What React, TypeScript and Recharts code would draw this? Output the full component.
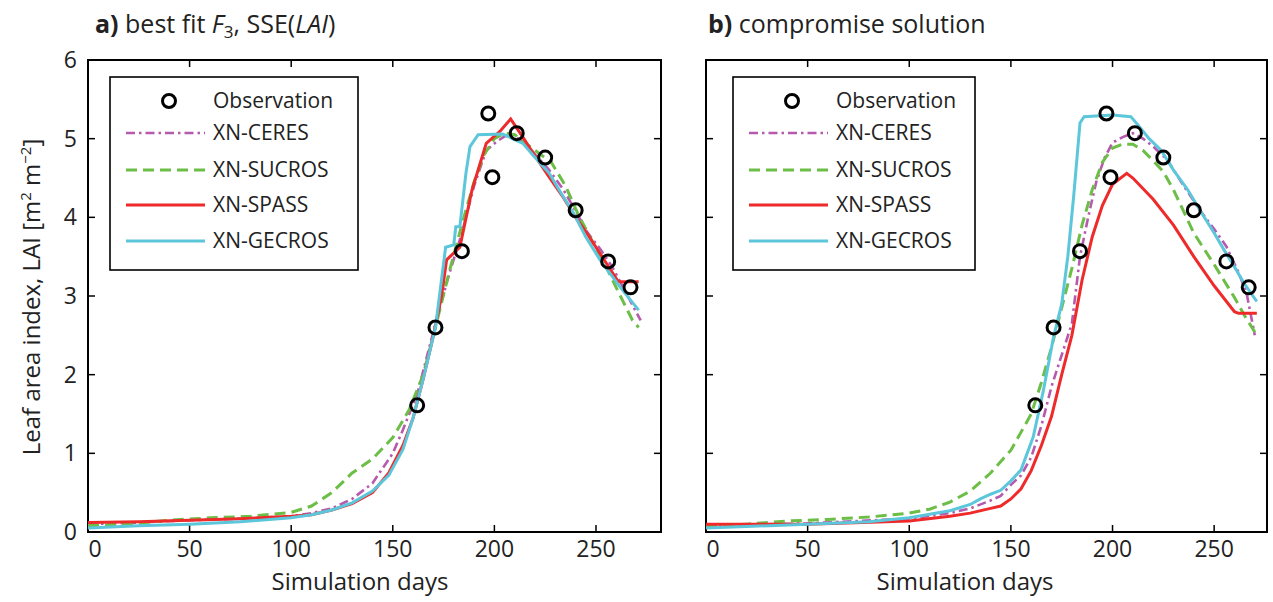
import React from "react";
import { ComposedChart, Line, Scatter, XAxis, YAxis, ReferenceLine, ReferenceArea } from "recharts";

const FONT = "'Open Sans', sans-serif";

const X_TICKS = [0, 50, 100, 150, 200, 250];
const Y_TICKS = [0, 1, 2, 3, 4, 5, 6];

// observations (same in both panels)
const OBS_DAY = [162, 171, 184, 197, 199, 211, 225, 240, 256, 267];
const OBS_LAI = [1.61, 2.6, 3.57, 5.32, 4.51, 5.07, 4.76, 4.09, 3.44, 3.11];

// panel a) best fit
const A_CERES_DAY = [0, 25, 50, 75, 100, 110, 120, 130, 140, 150, 155, 162, 168, 172, 178, 184, 190, 196, 201, 205, 210, 215, 220, 227, 234, 240, 246, 252, 258, 265, 272];
const A_CERES_LAI = [0.1, 0.12, 0.15, 0.17, 0.2, 0.24, 0.3, 0.42, 0.62, 1.0, 1.3, 1.75, 2.35, 2.75, 3.3, 3.8, 4.4, 4.85, 4.96, 5.03, 5.03, 4.95, 4.8, 4.6, 4.35, 4.08, 3.8, 3.6, 3.37, 3.03, 2.69];
const A_SUCROS_DAY = [0, 20, 40, 60, 80, 100, 110, 120, 130, 140, 150, 158, 165, 170, 178, 185, 190, 195, 200, 205, 210, 220, 228, 235, 241, 247, 255, 262, 268, 271];
const A_SUCROS_LAI = [0.08, 0.1, 0.15, 0.18, 0.2, 0.25, 0.33, 0.5, 0.75, 0.93, 1.2, 1.55, 2.0, 2.5, 3.33, 4.0, 4.45, 4.8, 5.0, 5.07, 5.05, 4.85, 4.7, 4.4, 4.05, 3.75, 3.37, 3.0, 2.69, 2.6];
const A_SPASS_DAY = [0, 25, 50, 75, 100, 110, 120, 130, 140, 148, 155, 160, 165, 170, 174, 176.5, 183, 189, 196, 203, 208, 214, 220, 227, 234, 240, 246, 252, 261, 271];
const A_SPASS_LAI = [0.12, 0.13, 0.15, 0.17, 0.2, 0.22, 0.28, 0.36, 0.5, 0.75, 1.1, 1.45, 1.95, 2.5, 3.0, 3.46, 3.62, 4.35, 4.94, 5.1, 5.25, 5.02, 4.78, 4.51, 4.25, 4.0, 3.78, 3.54, 3.18, 3.18];
const A_GECROS_DAY = [0, 25, 50, 75, 100, 110, 120, 130, 140, 148, 155, 160, 165, 171, 176, 180, 181, 183, 186, 188, 192, 204, 214, 220, 227, 233, 239, 245, 252, 262, 271];
const A_GECROS_LAI = [0.05, 0.08, 0.1, 0.13, 0.18, 0.22, 0.28, 0.37, 0.52, 0.72, 1.05, 1.45, 1.95, 2.6, 3.62, 3.65, 3.88, 3.88, 4.56, 4.9, 5.05, 5.06, 4.94, 4.76, 4.56, 4.3, 4.05, 3.75, 3.46, 3.11, 2.82];

// panel b) compromise solution
const B_CERES_DAY = [0, 50, 100, 120, 130, 140, 145, 150, 155, 160, 165, 170, 175, 180, 184, 188, 192, 196, 200, 205, 210, 215, 220, 227, 235, 243, 250, 256, 262, 266, 270];
const B_CERES_LAI = [0.08, 0.11, 0.17, 0.24, 0.3, 0.4, 0.46, 0.6, 0.72, 0.95, 1.35, 1.85, 2.25, 2.65, 3.5, 4.0, 4.45, 4.75, 4.95, 5.02, 5.07, 5.0, 4.9, 4.73, 4.4, 4.09, 3.85, 3.63, 3.3, 3.03, 2.5];
const B_SUCROS_DAY = [0, 20, 40, 60, 80, 100, 110, 120, 130, 140, 150, 160, 165, 170, 175, 180, 185, 190, 195, 200, 205, 210, 215, 220, 225, 230, 240, 250, 260, 265, 271];
const B_SUCROS_LAI = [0.07, 0.1, 0.14, 0.16, 0.19, 0.24, 0.29, 0.38, 0.52, 0.75, 1.04, 1.5, 1.9, 2.35, 2.85, 3.35, 3.9, 4.35, 4.7, 4.88, 4.93, 4.93, 4.85, 4.72, 4.58, 4.35, 3.8, 3.4, 2.98, 2.75, 2.5];
const B_SPASS_DAY = [0, 50, 100, 120, 130, 140, 145, 150, 155, 160, 165, 170, 175, 180, 185, 190, 195, 200, 207, 210, 220, 230, 240, 250, 260, 262, 271];
const B_SPASS_LAI = [0.1, 0.1, 0.14, 0.2, 0.24, 0.3, 0.33, 0.42, 0.55, 0.78, 1.1, 1.47, 2.0, 2.5, 3.2, 3.75, 4.15, 4.42, 4.56, 4.5, 4.23, 3.9, 3.5, 3.13, 2.8, 2.78, 2.78];
const B_GECROS_DAY = [0, 20, 50, 80, 100, 120, 130, 135, 140, 145, 150, 155, 161, 166, 171, 175, 178, 181, 184, 186, 200, 209, 212, 218, 224, 230, 237, 244, 250, 255, 260, 265, 271];
const B_GECROS_LAI = [0.05, 0.07, 0.1, 0.13, 0.18, 0.27, 0.35, 0.42, 0.48, 0.53, 0.65, 0.79, 1.21, 1.8, 2.48, 2.9, 3.5, 4.3, 5.2, 5.28, 5.3, 5.28, 5.19, 5.0, 4.85, 4.6, 4.35, 4.05, 3.8, 3.58, 3.37, 3.15, 2.93];

const zip = (d: number[], v: number[]) => d.map((x, i) => ({ x, y: v[i] }));
const OBS = zip(OBS_DAY, OBS_LAI);

const STYLES = [
  { key: "ceres", name: "XN-CERES", color: "#B65AAE", dash: "9 4 2.5 4", width: 2.6 },
  { key: "sucros", name: "XN-SUCROS", color: "#6CBE47", dash: "11 6", width: 3 },
  { key: "spass", name: "XN-SPASS", color: "#EE2A2B", dash: undefined, width: 3 },
  { key: "gecros", name: "XN-GECROS", color: "#5CC6DB", dash: undefined, width: 3 },
];

const SERIES_A = [zip(A_CERES_DAY, A_CERES_LAI), zip(A_SUCROS_DAY, A_SUCROS_LAI), zip(A_SPASS_DAY, A_SPASS_LAI), zip(A_GECROS_DAY, A_GECROS_LAI)];
const SERIES_B = [zip(B_CERES_DAY, B_CERES_LAI), zip(B_SUCROS_DAY, B_SUCROS_LAI), zip(B_SPASS_DAY, B_SPASS_LAI), zip(B_GECROS_DAY, B_GECROS_LAI)];

const PLOT_TOP = 60;
const PLOT_BOTTOM = 532;
const TICK_PX = 7;

const XTick = (props: any) => {
  const { x, y, payload } = props;
  const dx = payload.value === 0 ? 7 : 0;
  return (
    <text x={x + dx} y={y} dy="0.71em" textAnchor="middle" fontSize={23} fontFamily={FONT} fill="#222">
      {payload.value}
    </text>
  );
};

const ObsShape = (props: any) => (
  <circle cx={props.cx} cy={props.cy} r={6.5} fill="none" stroke="#000" strokeWidth={3} />
);

function Panel({ left, width, plotLeft, plotRight, xMax, yLabels, series }: any) {
  const yw = yLabels ? 40 : 0;
  // inward tick length in data units
  const dx = (TICK_PX * xMax) / (plotRight - plotLeft);
  const dy = (TICK_PX * 6) / (PLOT_BOTTOM - PLOT_TOP);
  const tickLine = { stroke: "#000", strokeWidth: 1.5 };
  return (
    <div style={{ position: "absolute", left, top: 0 }}>
      <ComposedChart
        width={width}
        height={602}
        margin={{ top: PLOT_TOP, right: width - plotRight, bottom: 602 - PLOT_BOTTOM - 30, left: plotLeft - yw }}
      >
        <XAxis xAxisId="x" dataKey="x" type="number" domain={[0, xMax]} ticks={X_TICKS} height={30}
          allowDataOverflow tickLine={false} tickSize={6} tickMargin={3} axisLine={false} tick={<XTick />} />
        <YAxis yAxisId="y" type="number" domain={[0, 6]} ticks={Y_TICKS} width={yw} hide={!yLabels}
          allowDataOverflow tickLine={false} tickSize={6} tickMargin={5} axisLine={false}
          tick={{ fontSize: 23, fontFamily: FONT, fill: "#222" }} />
        <ReferenceArea xAxisId="x" yAxisId="y" x1={0} x2={xMax} y1={0} y2={6}
          fill="none" fillOpacity={0} stroke="#000" strokeWidth={2} />
        {X_TICKS.map((t) => (
          <ReferenceLine key={"xb" + t} xAxisId="x" yAxisId="y" segment={[{ x: t, y: 0 }, { x: t, y: dy }]} {...tickLine} />
        ))}
        {X_TICKS.map((t) => (
          <ReferenceLine key={"xt" + t} xAxisId="x" yAxisId="y" segment={[{ x: t, y: 6 }, { x: t, y: 6 - dy }]} {...tickLine} />
        ))}
        {Y_TICKS.map((t) => (
          <ReferenceLine key={"yl" + t} xAxisId="x" yAxisId="y" segment={[{ x: 0, y: t }, { x: dx, y: t }]} {...tickLine} />
        ))}
        {Y_TICKS.map((t) => (
          <ReferenceLine key={"yr" + t} xAxisId="x" yAxisId="y" segment={[{ x: xMax, y: t }, { x: xMax - dx, y: t }]} {...tickLine} />
        ))}
        {STYLES.map((s, i) => (
          <Line key={s.key} xAxisId="x" yAxisId="y" data={series[i]} dataKey="y" name={s.name}
            type="linear" stroke={s.color} strokeWidth={s.width} strokeDasharray={s.dash}
            dot={false} activeDot={false} isAnimationActive={false} />
        ))}
        <Scatter xAxisId="x" yAxisId="y" data={OBS} dataKey="y" name="Observation" shape={ObsShape} isAnimationActive={false} />
      </ComposedChart>
    </div>
  );
}

function LegendBox({ x, w }: { x: number; w: number }) {
  const rows = [101, 133, 170, 205, 241];
  return (
    <g fontFamily={FONT} fontSize={21} fill="#222">
      <rect x={x} y={77} width={w} height={193} fill="#fff" stroke="#000" strokeWidth={1.6} />
      <circle cx={x + 59} cy={rows[0]} r={6.5} fill="none" stroke="#000" strokeWidth={3} />
      <text x={x + 103} y={rows[0]} dy="0.35em">Observation</text>
      {STYLES.map((s, i) => (
        <g key={s.key}>
          <line x1={x + 16} x2={x + 95} y1={rows[i + 1]} y2={rows[i + 1]} stroke={s.color}
            strokeWidth={s.width} strokeDasharray={s.dash} />
          <text x={x + 103} y={rows[i + 1]} dy="0.35em">{s.name}</text>
        </g>
      ))}
    </g>
  );
}

export default function App() {
  return (
    <div style={{ position: "absolute", left: 0, top: 0, width: 1273, height: 602, background: "#fff" }}>
      <Panel left={0} width={680} plotLeft={88} plotRight={661} xMax={282} yLabels series={SERIES_A} />
      <Panel left={640} width={633} plotLeft={66} plotRight={627} xMax={276} yLabels={false} series={SERIES_B} />
      <svg width={1273} height={602} style={{ position: "absolute", left: 0, top: 0, pointerEvents: "none" }}>
        <g fontFamily={FONT} fill="#222">
          <text x={95} y={33} fontSize={25}>
            <tspan fontWeight="bold">a)</tspan> best fit <tspan fontStyle="italic">F</tspan>
            <tspan dy={5} fontSize={17}>3</tspan>
            <tspan dy={-5}>, SSE(</tspan>
            <tspan fontStyle="italic">LAI</tspan>)
          </text>
          <text x={708} y={33} fontSize={25}>
            <tspan fontWeight="bold">b)</tspan> compromise solution
          </text>
          <text transform="translate(40,297) rotate(-90)" textAnchor="middle" fontSize={24}>
            Leaf area index, LAI [m<tspan dy={-9} fontSize={15}>2</tspan>
            <tspan dy={9}> m</tspan>
            <tspan dy={-9} fontSize={15}>−2</tspan>
            <tspan dy={9}>]</tspan>
          </text>
          <text x={360} y={590} textAnchor="middle" fontSize={24}>Simulation days</text>
          <text x={965} y={590} textAnchor="middle" fontSize={24}>Simulation days</text>
        </g>
        <LegendBox x={110} w={248} />
        <LegendBox x={733} w={242} />
      </svg>
    </div>
  );
}
